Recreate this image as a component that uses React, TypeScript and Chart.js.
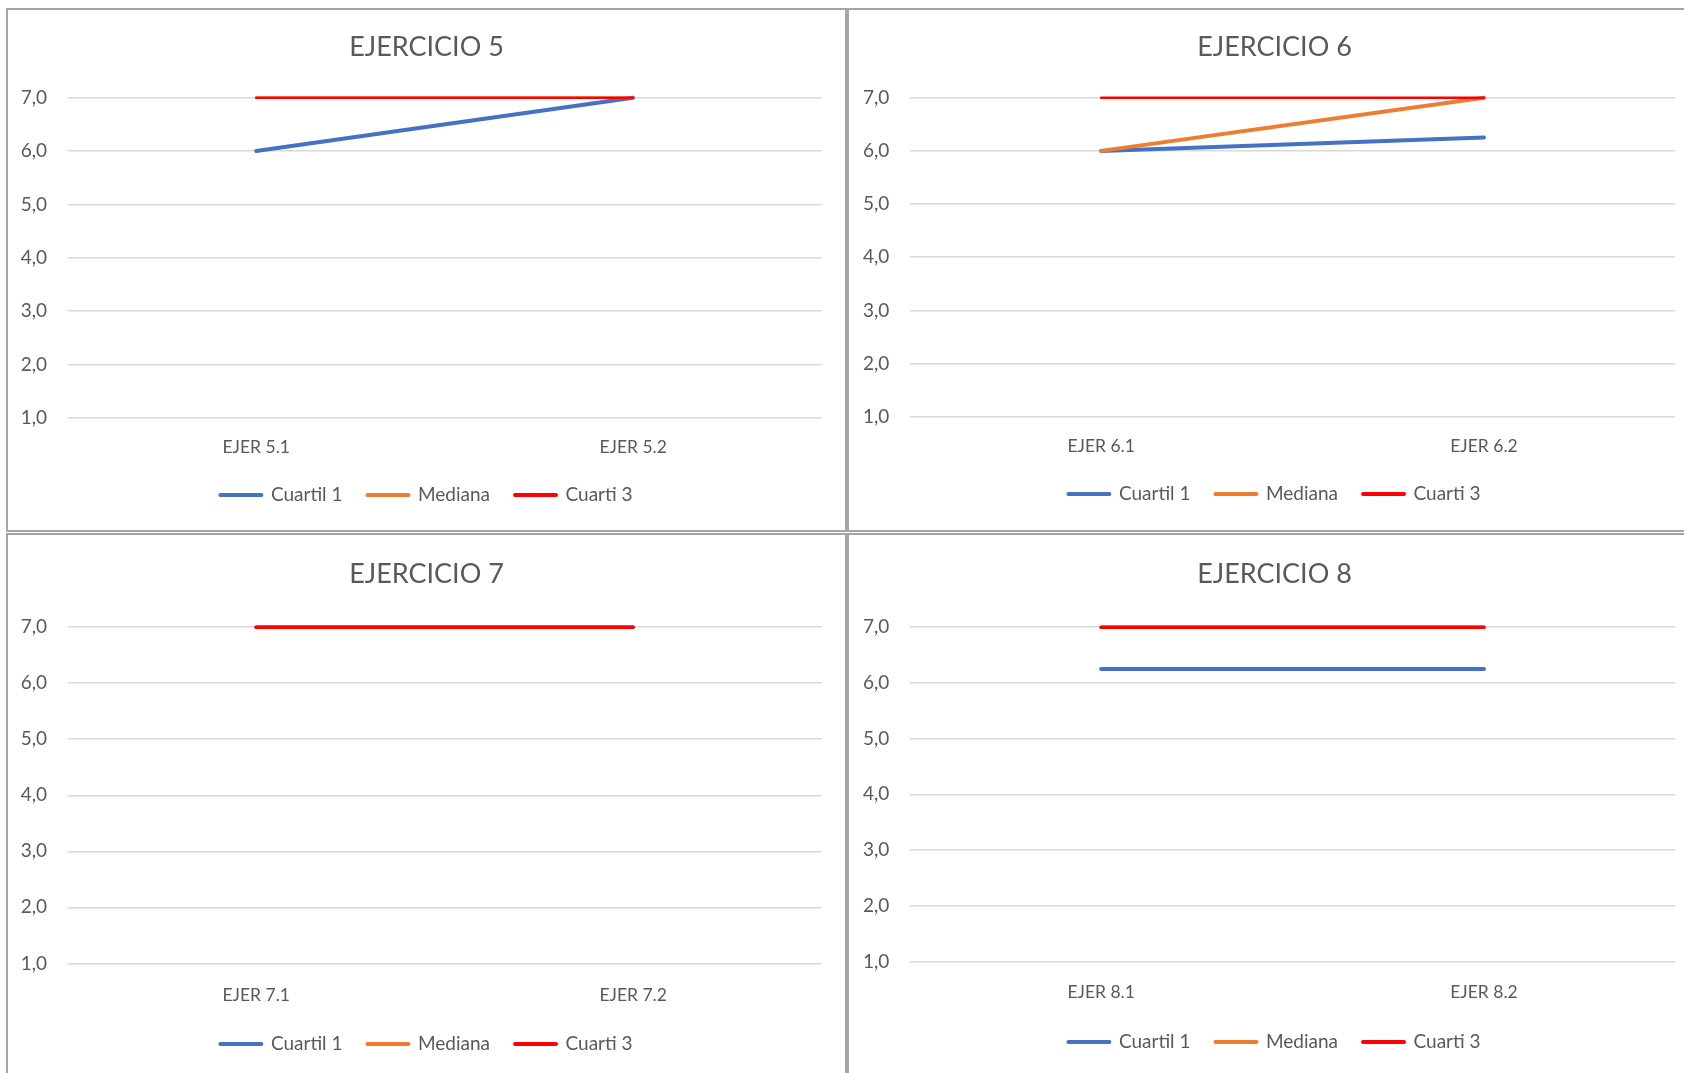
import React, { useEffect, useRef } from 'react';
import { Chart, registerables } from 'chart.js';

Chart.register(...registerables);

// Series shared by every exercise chart
const seriesNames = ['Cuartil 1', 'Mediana', 'Cuarti 3'];
const seriesColors = ['#4472C4', '#ED7D31', '#FF0000'];

// Exercise 5
const titleEj5 = 'EJERCICIO 5';
const categoriesEj5 = ['EJER 5.1', 'EJER 5.2'];
const cuartil1Ej5 = [6, 7];
const medianaEj5 = [7, 7];
const cuarti3Ej5 = [7, 7];

// Exercise 6
const titleEj6 = 'EJERCICIO 6';
const categoriesEj6 = ['EJER 6.1', 'EJER 6.2'];
const cuartil1Ej6 = [6, 6.25];
const medianaEj6 = [6, 7];
const cuarti3Ej6 = [7, 7];

// Exercise 7
const titleEj7 = 'EJERCICIO 7';
const categoriesEj7 = ['EJER 7.1', 'EJER 7.2'];
const cuartil1Ej7 = [7, 7];
const medianaEj7 = [7, 7];
const cuarti3Ej7 = [7, 7];

// Exercise 8
const titleEj8 = 'EJERCICIO 8';
const categoriesEj8 = ['EJER 8.1', 'EJER 8.2'];
const cuartil1Ej8 = [6.25, 6.25];
const medianaEj8 = [7, 7];
const cuarti3Ej8 = [7, 7];

// Value axis
const yMin = 1;
const yMax = 7;
const yStep = 1;

const TEXT = '#595959';
const GRID = '#d9d9d9';
const FRAME = '#a5a5a5';
const FONT = 'Lato, "Open Sans", sans-serif';

type Frame = {
  left: number;
  top: number;
  width: number;
  height: number;
  yAxisWidth: number;
  yTickPad: number;
  rightPad: number;
  titleTop: number;
  titleBottom: number;
  xAxisHeight: number;
  xTickPad: number;
  bottomPad: number;
};

type PanelProps = {
  title: string;
  categories: string[];
  series: number[][];
  widths: number[];
  frame: Frame;
};

function Panel({ title, categories, series, widths, frame }: PanelProps) {
  const ref = useRef<HTMLCanvasElement | null>(null);

  useEffect(() => {
    if (!ref.current) return;
    const chart = new Chart(ref.current, {
      type: 'line',
      data: {
        labels: categories,
        datasets: series.map((values, i) => ({
          label: seriesNames[i],
          data: values,
          borderColor: seriesColors[i],
          backgroundColor: seriesColors[i],
          borderWidth: widths[i],
          borderCapStyle: 'round',
          borderJoinStyle: 'round',
          pointRadius: 0,
          pointHoverRadius: 0,
          tension: 0,
          fill: false,
          clip: false,
          order: series.length - i,
          yAxisID: 'y',
        })),
      },
      options: {
        animation: false,
        responsive: true,
        maintainAspectRatio: false,
        events: [],
        layout: {
          padding: { left: 0, right: 0, top: 0, bottom: frame.bottomPad },
        },
        font: { family: FONT },
        scales: {
          x: {
            type: 'category',
            offset: true,
            grid: { display: false },
            border: { display: false },
            ticks: {
              color: TEXT,
              font: { family: FONT, size: 17.5 },
              padding: frame.xTickPad,
              maxRotation: 0,
              autoSkip: false,
            },
            afterFit: (scale: any) => {
              scale.height = frame.xAxisHeight;
            },
          },
          y: {
            type: 'linear',
            position: 'left',
            min: yMin,
            max: yMax,
            grid: { color: GRID, lineWidth: 1.6, drawTicks: false },
            border: { display: false },
            ticks: {
              stepSize: yStep,
              color: TEXT,
              font: { family: FONT, size: 19 },
              padding: frame.yTickPad,
              callback: (v: any) => Number(v).toFixed(1).replace('.', ','),
            },
            afterFit: (scale: any) => {
              scale.width = frame.yAxisWidth;
            },
          },
          // empty margin on the right of the plot, kept as an axis so the
          // title and legend stay centred on the whole panel
          yRight: {
            type: 'linear',
            position: 'right',
            min: yMin,
            max: yMax,
            grid: { display: false, drawTicks: false },
            border: { display: false },
            ticks: { display: false },
            afterFit: (scale: any) => {
              scale.width = frame.rightPad;
            },
          },
        },
        plugins: {
          title: {
            display: true,
            text: title,
            color: TEXT,
            font: { family: FONT, size: 27, weight: 'normal' },
            padding: { top: frame.titleTop, bottom: frame.titleBottom },
          },
          legend: {
            display: true,
            position: 'bottom',
            labels: {
              color: TEXT,
              font: { family: FONT, size: 19 },
              usePointStyle: true,
              pointStyle: 'line',
              pointStyleWidth: 41,
              padding: 25,
              generateLabels: (c: any) =>
                c.data.datasets.map((ds: any, i: number) => ({
                  text: ds.label,
                  strokeStyle: ds.borderColor,
                  fillStyle: ds.borderColor,
                  fontColor: TEXT,
                  lineWidth: 4,
                  lineCap: 'round',
                  pointStyle: 'line',
                  hidden: false,
                  datasetIndex: i,
                })),
            },
          },
          tooltip: { enabled: false },
        },
      } as any,
    });
    return () => chart.destroy();
  }, [title, categories, series, widths, frame]);

  return (
    <div
      style={{
        position: 'absolute',
        left: frame.left,
        top: frame.top,
        width: frame.width,
        height: frame.height,
        border: `2px solid ${FRAME}`,
        boxSizing: 'border-box',
        background: '#fff',
      }}
    >
      <div style={{ position: 'relative', width: frame.width - 4, height: frame.height - 4 }}>
        <canvas ref={ref} />
      </div>
    </div>
  );
}

const frameTopLeft: Frame = {
  left: 6, top: 8, width: 841, height: 524,
  yAxisWidth: 59.7, yTickPad: 20.7, rightPad: 23.4,
  titleTop: 21.1, titleBottom: 34.2,
  xAxisHeight: 42.7, xTickPad: 11.4, bottomPad: 15.5,
};
const frameTopRight: Frame = {
  left: 847, top: 8, width: 855, height: 524,
  yAxisWidth: 60.7, yTickPad: 20.4, rightPad: 24.6,
  titleTop: 21.1, titleBottom: 34.2,
  xAxisHeight: 42.7, xTickPad: 11.4, bottomPad: 16.5,
};
const frameBottomLeft: Frame = {
  left: 6, top: 533, width: 841, height: 548,
  yAxisWidth: 59.7, yTickPad: 20.7, rightPad: 23.4,
  titleTop: 23.4, titleBottom: 36.4,
  xAxisHeight: 46.1, xTickPad: 13.5, bottomPad: 15.5,
};
const frameBottomRight: Frame = {
  left: 847, top: 533, width: 855, height: 548,
  yAxisWidth: 60.7, yTickPad: 20.4, rightPad: 24.6,
  titleTop: 23.4, titleBottom: 36.4,
  xAxisHeight: 46.1, xTickPad: 12.5, bottomPad: 17.5,
};

const seriesEj5 = [cuartil1Ej5, medianaEj5, cuarti3Ej5];
const seriesEj6 = [cuartil1Ej6, medianaEj6, cuarti3Ej6];
const seriesEj7 = [cuartil1Ej7, medianaEj7, cuarti3Ej7];
const seriesEj8 = [cuartil1Ej8, medianaEj8, cuarti3Ej8];

const widthsEj5 = [4, 2.5, 2.5];
const widthsEj6 = [4, 4, 2.5];
const widthsEj7 = [3.5, 3.5, 3.5];
const widthsEj8 = [4, 3.5, 3.5];

export default function App() {
  return (
    <div
      style={{
        position: 'fixed',
        left: 0,
        top: 0,
        width: 1684,
        height: 1073,
        overflow: 'hidden',
        background: '#fff',
      }}
    >
      <Panel title={titleEj5} categories={categoriesEj5} series={seriesEj5} widths={widthsEj5} frame={frameTopLeft} />
      <Panel title={titleEj6} categories={categoriesEj6} series={seriesEj6} widths={widthsEj6} frame={frameTopRight} />
      <Panel title={titleEj7} categories={categoriesEj7} series={seriesEj7} widths={widthsEj7} frame={frameBottomLeft} />
      <Panel title={titleEj8} categories={categoriesEj8} series={seriesEj8} widths={widthsEj8} frame={frameBottomRight} />
    </div>
  );
}
